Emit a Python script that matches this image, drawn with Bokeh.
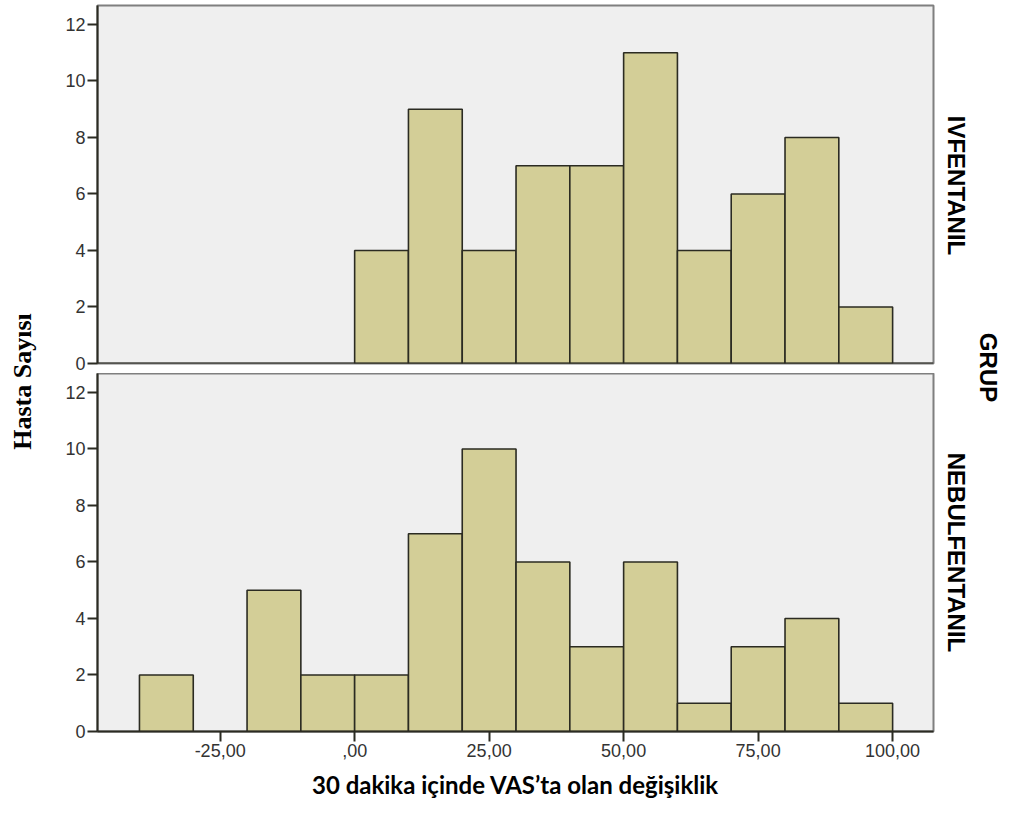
import math
from bokeh.plotting import figure
from bokeh.models import Range1d, FixedTicker, Label, Span
from bokeh.layouts import row, column
from bokeh.embed import file_html
from bokeh.resources import INLINE

# ---- data ----
bin_left = [-40, -30, -20, -10, 0, 10, 20, 30, 40, 50, 60, 70, 80, 90]
bin_right = [-30, -20, -10, 0, 10, 20, 30, 40, 50, 60, 70, 80, 90, 100]
iv_counts = [0, 0, 0, 0, 4, 9, 4, 7, 7, 11, 4, 6, 8, 2]
neb_counts = [2, 0, 5, 2, 2, 7, 10, 6, 3, 6, 1, 3, 4, 1]
groups = ["IVFENTANIL", "NEBULFENTANIL"]
x_ticks = [-25, 0, 25, 50, 75, 100]
x_tick_labels = ["-25,00", ",00", "25,00", "50,00", "75,00", "100,00"]
y_ticks = [0, 2, 4, 6, 8, 10, 12]
x_title = "30 dakika içinde VAS’ta olan değişiklik"
y_title = "Hasta Sayısı"
group_title = "GRUP"

BG = "#EFEFEF"
FILL = "#D3CE97"
DARK = "#2B2B22"
TICK_FONT = "Liberation Sans"
TOTAL_H = 801

X0, X1 = -47.8, 107.6
Y_END = 12.67


def panel(counts, top_border, bottom_border, show_x):
    p = figure(frame_width=836, frame_height=358,
               min_border_left=57, min_border_right=7,
               min_border_top=top_border, min_border_bottom=bottom_border,
               x_range=Range1d(X0, X1), y_range=Range1d(0, Y_END),
               output_backend="svg", toolbar_location=None, tools="")
    p.background_fill_color = BG
    p.border_fill_color = "white"
    p.outline_line_color = "#7F7F7F"
    p.outline_line_width = 2
    p.grid.visible = False
    L = [l for l, c in zip(bin_left, counts) if c > 0]
    R = [r for r, c in zip(bin_right, counts) if c > 0]
    C = [c for c in counts if c > 0]
    p.quad(left=L, right=R, bottom=0, top=C, fill_color=FILL,
           line_color=DARK, line_width=1.6)
    ya = p.yaxis[0]
    ya.ticker = FixedTicker(ticks=y_ticks)
    ya.axis_line_color = DARK
    ya.axis_line_width = 2
    ya.major_tick_line_color = DARK
    ya.major_tick_line_width = 2
    ya.major_tick_out = 10
    ya.major_tick_in = 0
    ya.minor_tick_line_color = None
    ya.major_label_standoff = 2
    ya.major_label_text_font = TICK_FONT
    ya.major_label_text_font_size = "18px"
    ya.major_label_text_color = "#333333"
    xa = p.xaxis[0]
    if show_x:
        xa.ticker = FixedTicker(ticks=x_ticks)
        xa.major_label_overrides = {t: s for t, s in zip(x_ticks, x_tick_labels)}
        xa.axis_line_color = DARK
        xa.axis_line_width = 2
        xa.major_tick_line_color = DARK
        xa.major_tick_line_width = 2
        xa.major_tick_out = 10
        xa.major_tick_in = 0
        xa.minor_tick_line_color = None
        xa.major_label_standoff = 2
        xa.major_label_text_font = TICK_FONT
        xa.major_label_text_font_size = "18px"
        xa.major_label_text_color = "#333333"
        xa.axis_label = x_title
        xa.axis_label_text_font = "Lato"
        xa.axis_label_text_font_style = "bold"
        xa.axis_label_text_font_size = "24px"
        xa.axis_label_text_color = "black"
        xa.axis_label_standoff = 10
    else:
        xa.visible = False
        p.add_layout(Span(location=0, dimension="width", line_color=DARK, line_width=2))
    return p


top = panel(iv_counts, 5, 10, False)
bottom = panel(neb_counts, 0, TOTAL_H - 373 - 358, True)


def strip(w, items):
    s = figure(width=w, height=TOTAL_H, x_range=Range1d(0, w), y_range=Range1d(0, TOTAL_H),
               min_border=0, x_axis_location=None, y_axis_location=None,
               output_backend="svg", toolbar_location=None, tools="")
    s.outline_line_color = None
    s.grid.visible = False
    s.background_fill_color = "white"
    s.border_fill_color = "white"
    for text, x, y, angle, font, size in items:
        s.add_layout(Label(x=x, y=y, text=text, angle=angle, text_align="center",
                           text_baseline="middle", text_font=font, text_font_style="bold",
                           text_font_size=size, text_color="black"))
    return s


left = strip(40, [(y_title, 22, TOTAL_H - 381, math.pi / 2, "Liberation Serif", "26px")])
right = strip(65, [
    (groups[0], 16, TOTAL_H - 185, -math.pi / 2, TICK_FONT, "24px"),
    (groups[1], 16, TOTAL_H - 552, -math.pi / 2, TICK_FONT, "24px"),
    (group_title, 48, TOTAL_H - 367, -math.pi / 2, TICK_FONT, "24px"),
])

layout = row(left, column(top, bottom), right)
open("out.html", "w").write(file_html(layout, INLINE))
